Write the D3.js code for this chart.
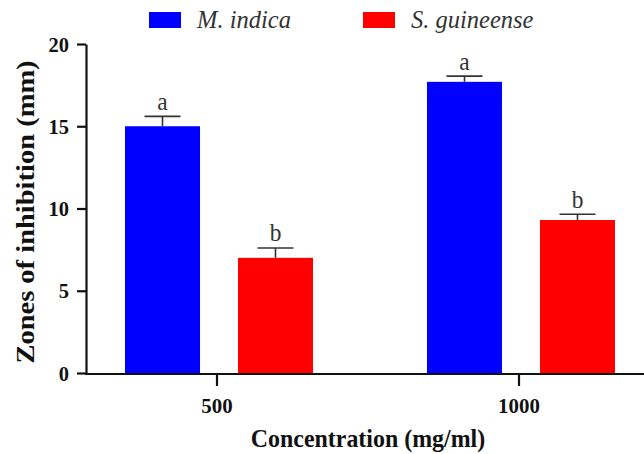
<!DOCTYPE html>
<html><head><meta charset="utf-8">
<script src="https://cdn.jsdelivr.net/npm/d3@7"></script>
<style>body{margin:0;background:#fff} svg text{font-family:"Liberation Serif","Times New Roman",serif;}</style>
</head><body>
<svg id="c" width="644" height="454"></svg>
<script>
const categories = ["500", "1000"];
const seriesNames = ["M. indica", "S. guineense"];
const mIndica = [15.0, 17.7];
const mIndicaErr = [0.6, 0.35];
const sGuineense = [7.0, 9.3];
const sGuineenseErr = [0.6, 0.35];
const letters = [["a", "a"], ["b", "b"]];
const yTicks = [0, 5, 10, 15, 20];
const colors = ["#0000ff", "#ff0000"];

const values = [mIndica, sGuineense];
const errs = [mIndicaErr, sGuineenseErr];

const svg = d3.select("#c");

const y = d3.scaleLinear().domain([0, 20]).range([373, 44]);
const x0 = d3.scaleBand().domain(categories).range([66, 670]).padding(0);
const x1 = d3.scaleBand().domain(seriesNames).range([59, 247]).paddingInner(0.336).paddingOuter(0);

// bars
seriesNames.forEach((s, si) => {
  const g = svg.append("g");
  categories.forEach((c, ci) => {
    const v = values[si][ci], e = errs[si][ci];
    const bx = x0(c) + x1(s), bw = x1.bandwidth();
    const cx = bx + bw / 2;
    g.append("rect").attr("x", bx).attr("y", y(v)).attr("width", bw).attr("height", y(0) - y(v))
      .attr("fill", colors[si]);
    g.append("line").attr("x1", cx).attr("x2", cx).attr("y1", y(v)).attr("y2", y(v + e))
      .attr("stroke", "#333").attr("stroke-width", 1.6);
    g.append("line").attr("x1", cx - 18).attr("x2", cx + 18).attr("y1", y(v + e)).attr("y2", y(v + e))
      .attr("stroke", "#333").attr("stroke-width", 1.6);
    g.append("text").attr("transform", `translate(${cx},${y(v + e) - 6.5}) scale(0.9,1)`)
      .attr("text-anchor", "middle")
      .style("font-size", "26px").attr("fill", "#333").text(letters[si][ci]);
  });
});

// y axis
const ya = svg.append("g").attr("transform", "translate(86,0)")
  .call(d3.axisLeft(y).tickValues(yTicks).tickSize(9).tickSizeOuter(0).tickPadding(0));
ya.attr("font-family", null).attr("font-size", null);
ya.select(".domain").attr("stroke", "#111").attr("stroke-width", 2.2);
ya.selectAll(".tick line").attr("stroke", "#111").attr("stroke-width", 2.2);
ya.selectAll(".tick text").attr("x", 0).attr("transform", "translate(-17,0) scale(0.93,1)")
  .style("font-weight", "bold").style("font-size", "22px").attr("fill", "#111");

// x axis
const xa = svg.append("g").attr("transform", "translate(0,374)")
  .call(d3.axisBottom(x0).tickSize(12).tickSizeOuter(0).tickPadding(11));
xa.attr("font-family", null).attr("font-size", null);
xa.select(".domain").remove();
xa.append("line").attr("x1", 85).attr("x2", 644).attr("y1", 0).attr("y2", 0)
  .attr("stroke", "#111").attr("stroke-width", 2.2);
xa.selectAll(".tick line").attr("stroke", "#111").attr("stroke-width", 2.2);
xa.selectAll(".tick text").attr("transform", "scale(0.95,1)")
  .style("font-weight", "bold").style("font-size", "22px").attr("fill", "#111");

// axis titles
svg.append("text").attr("transform", "translate(34,212) rotate(-90) scale(1,0.9)").attr("text-anchor", "middle")
  .style("font-weight", "bold").style("font-size", "28.5px").attr("fill", "#111")
  .text("Zones of inhibition (mm)");
svg.append("text").attr("transform", "translate(368,447) scale(0.92,1)").attr("text-anchor", "middle")
  .style("font-weight", "bold").style("font-size", "26px").attr("fill", "#111")
  .text("Concentration (mg/ml)");

// legend
const legX = [149, 363];
seriesNames.forEach((s, i) => {
  svg.append("rect").attr("x", legX[i]).attr("y", 12).attr("width", 32).attr("height", 16).attr("fill", colors[i]);
  svg.append("text").attr("x", legX[i] + 48).attr("y", 28)
    .style("font-style", "italic").style("font-size", "24.5px").attr("fill", "#333").text(s);
});
</script>
</body></html>
